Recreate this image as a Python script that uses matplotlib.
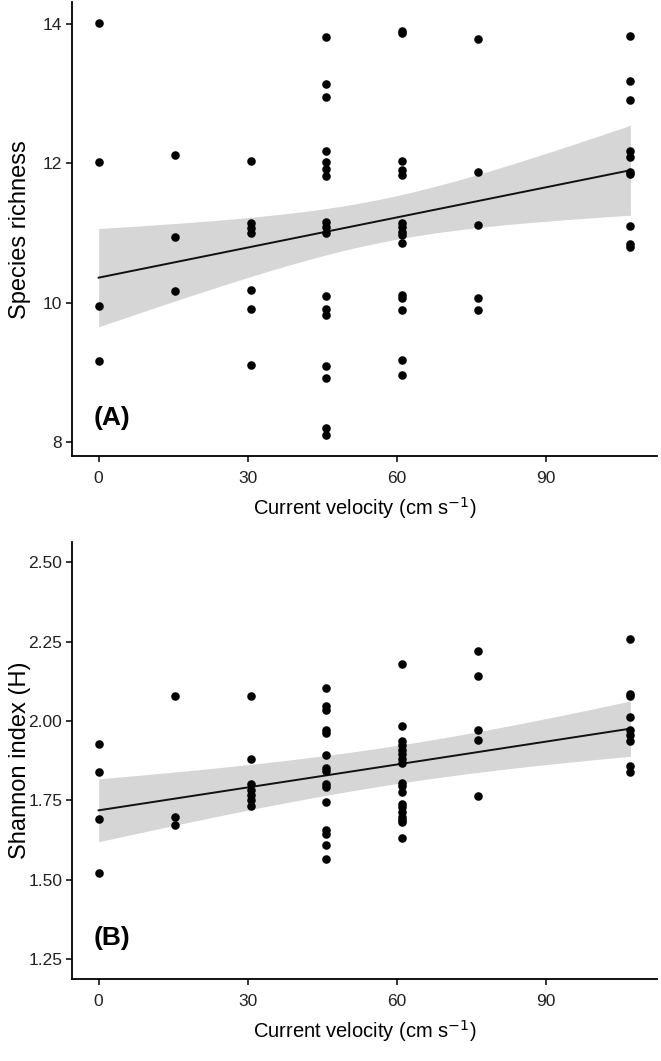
import numpy as np
import matplotlib
matplotlib.use('Agg')
import matplotlib.pyplot as plt

plt.rcParams['font.family'] = ['Liberation Sans', 'DejaVu Sans']

# current velocity levels (cm/s)
vel_levels = [0, 15.3, 30.6, 45.8, 61.1, 76.4, 107.0]

# species richness, one list per velocity level
richness = [
    [14.01, 12.02, 9.95, 9.17],
    [12.12, 10.95, 10.17],
    [12.03, 11.15, 11.07, 11.0, 10.18, 9.91, 9.11],
    [13.81, 13.14, 12.95, 12.18, 12.02, 11.92, 11.82, 11.16, 11.09, 11.0,
     10.10, 9.91, 9.83, 9.09, 8.92, 8.21, 8.10],
    [13.90, 13.87, 12.03, 11.91, 11.83, 11.15, 11.09, 11.02, 10.97, 10.86,
     10.11, 10.07, 9.90, 9.18, 8.97],
    [13.78, 11.87, 11.12, 10.07, 9.89],
    [13.82, 13.18, 12.90, 12.17, 12.09, 11.88, 11.85, 11.10, 10.84, 10.80],
]

# Shannon index, one list per velocity level
shannon = [
    [1.929, 1.840, 1.693, 1.523],
    [2.078, 1.698, 1.674],
    [2.079, 1.879, 1.803, 1.784, 1.766, 1.751, 1.733],
    [2.105, 2.046, 2.036, 1.973, 1.962, 1.892, 1.853, 1.843, 1.803, 1.792,
     1.745, 1.656, 1.644, 1.609, 1.565],
    [2.178, 1.984, 1.936, 1.924, 1.908, 1.897, 1.880, 1.869, 1.805, 1.795,
     1.777, 1.740, 1.728, 1.714, 1.698, 1.688, 1.682, 1.632],
    [2.220, 2.141, 1.971, 1.939, 1.763],
    [2.257, 2.086, 2.080, 2.013, 1.971, 1.955, 1.937, 1.858, 1.840],
]

# fitted model: value at x=0 and x=107
richness_fit = [10.36, 11.90]
shannon_fit = [1.719, 1.976]
# 95% CI half-widths: at x=0, at x=107, narrowest
richness_ci = [0.705, 0.645, 0.31]
shannon_ci = [0.099, 0.087, 0.060]


def flatten(groups):
    x = np.concatenate([[v] * len(g) for v, g in zip(vel_levels, groups)])
    y = np.concatenate([np.array(g) for g in groups])
    return x, y


def band(fit_ends, ci, xs):
    """Line through the fit ends with a hyperbolic confidence band."""
    x0, x1 = 0.0, 107.0
    fit = fit_ends[0] + (fit_ends[1] - fit_ends[0]) * (xs - x0) / (x1 - x0)
    h0, h1, hm = ci
    a0 = h0 ** 2 - hm ** 2
    a1 = h1 ** 2 - hm ** 2
    r = np.sqrt(a0 / a1)
    xm = r * x1 / (1 + r)
    k = a0 / xm ** 2
    half = np.sqrt(hm ** 2 + k * (xs - xm) ** 2)
    return fit, fit - half, fit + half


def draw_panel(ax, groups, fit_ends, ci, ylabel, yticks, ylim, tag, tag_y):
    x, y = flatten(groups)
    xs = np.linspace(0, 107, 200)
    fit, lo, hi = band(fit_ends, ci, xs)
    ax.fill_between(xs, lo, hi, color='#d6d6d6', lw=0, zorder=1)
    ax.plot(xs, fit, color='#111111', lw=1.4, zorder=2)
    ax.scatter(x, y, s=38, color='black', lw=0, zorder=3)

    ax.set_xlim(-5.35, 112.35)
    ax.set_ylim(*ylim)
    ax.set_xticks([0, 30, 60, 90])
    ax.set_yticks(yticks)
    ax.set_yticklabels(['%g' % v if isinstance(v, int) else '%.2f' % v for v in yticks])
    for side in ['top', 'right']:
        ax.spines[side].set_visible(False)
    for side in ['left', 'bottom']:
        ax.spines[side].set_linewidth(1.3)
    ax.tick_params(length=4, width=1.1, labelsize=12.5, colors='black',
                   labelcolor='#222222', pad=3)
    ax.tick_params(axis='x', pad=6.5)
    ax.set_xlabel('Current velocity (cm s$^{-1}$)', fontsize=14.5, labelpad=6.5)
    ax.set_ylabel(ylabel, fontsize=17)
    ax.yaxis.set_label_coords(-0.071, 0.5)
    ax.text(-1, tag_y, tag, fontsize=19, fontweight='bold', ha='left',
            va='baseline')


fig = plt.figure(figsize=(6.61, 10.61), dpi=100)
ax1 = fig.add_axes([0.109, 0.570, 0.885, 0.428])
ax2 = fig.add_axes([0.109, 0.077, 0.885, 0.412])

draw_panel(ax1, richness, richness_fit, richness_ci, 'Species richness',
           [8, 10, 12, 14], (7.80, 14.31), '(A)', 8.25)
draw_panel(ax2, shannon, shannon_fit, shannon_ci, 'Shannon index (H)',
           [1.25, 1.50, 1.75, 2.00, 2.25, 2.50], (1.1875, 2.5625), '(B)', 1.295)

fig.savefig('out.png', dpi=100)
